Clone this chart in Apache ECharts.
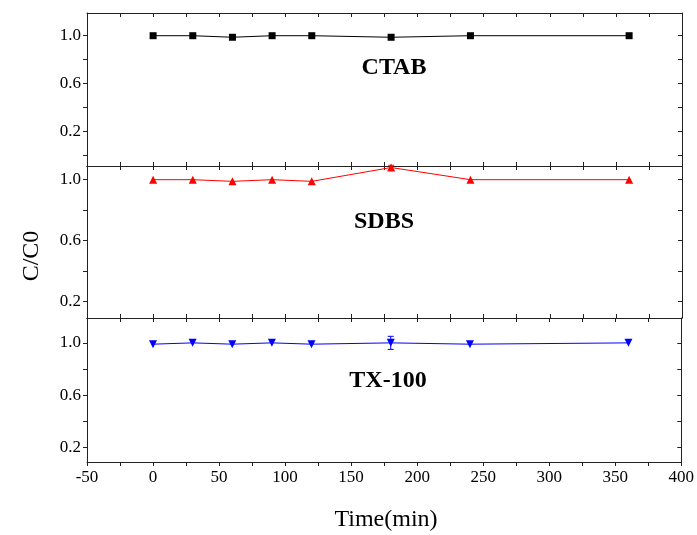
<!DOCTYPE html>
<html><head><meta charset="utf-8">
<script src="https://cdn.jsdelivr.net/npm/echarts@6/dist/echarts.min.js"></script>
<style>html,body{margin:0;padding:0;background:#fff}#c{width:697px;height:535px}</style>
</head><body><div id="c"></div>
<script>
const time = [0, 30, 60, 90, 120, 180, 240, 360];
const ctab = [1.0, 1.0, 0.987, 1.0, 1.0, 0.987, 1.0, 1.0];
const ctabErr = [0, 0, 0, 0, 0, 0, 0, 0];
const sdbs = [1.0, 1.0, 0.989, 1.0, 0.989, 1.08, 1.0, 1.0];
const sdbsErr = [0, 0, 0, 0, 0, 0.015, 0, 0];
const tx100 = [0.99, 1.0, 0.99, 1.0, 0.99, 1.0, 0.99, 1.0];
const tx100Err = [0, 0, 0, 0, 0, 0.05, 0, 0];
const xTicks = [-50, 0, 50, 100, 150, 200, 250, 300, 350, 400];
const yTickValues = [0, 0.2, 0.4, 0.6, 0.8, 1.0];
const yLabelValues = [0.2, 0.6, 1.0];
const panelNames = ['CTAB', 'SDBS', 'TX-100'];

const FONT = '"Liberation Serif", "Times New Roman", serif';
const chart = echarts.init(document.getElementById('c'));

const grids = [
  {left: 87, right: 15, top: 13, height: 153},
  {left: 87, right: 15, top: 166, height: 152},
  {left: 87, right: 15, top: 318, height: 144}
];
const yRanges = [[-0.09, 1.19], [0.09, 1.09], [0.09, 1.19]];
const lineStyle = {color: '#222', width: 1};

const xAxis = [], yAxis = [];
for (let i = 0; i < 3; i++) {
  const isLast = i === 2;
  xAxis.push({
    type: 'value', gridIndex: i, position: 'bottom', min: -50, max: 400, interval: 50,
    axisLine: {show: true, onZero: false, lineStyle},
    axisTick: {show: true, inside: !isLast, length: 4, lineStyle},
    minorTick: {show: true, splitNumber: 2, length: 4, lineStyle},
    splitLine: {show: false},
    axisLabel: {show: isLast, color: '#000', fontFamily: FONT, fontSize: 17, margin: 7,
      customValues: xTicks, formatter: v => String(v)}
  });
  xAxis.push({
    type: 'value', gridIndex: i, position: 'top', min: -50, max: 400, interval: 50,
    axisLine: {show: true, onZero: false, lineStyle},
    axisTick: {show: true, inside: true, length: 4, lineStyle},
    minorTick: {show: true, splitNumber: 2, length: 4, lineStyle},
    splitLine: {show: false}, axisLabel: {show: false}
  });
  yAxis.push({
    type: 'value', gridIndex: i, position: 'left', min: yRanges[i][0], max: yRanges[i][1],
    axisLine: {show: true, onZero: false, lineStyle},
    axisTick: {show: true, inside: false, length: 4, lineStyle, customValues: yTickValues},
    splitLine: {show: false},
    axisLabel: {show: true, color: '#000', fontFamily: FONT, fontSize: 17, margin: 6,
      customValues: yLabelValues, formatter: v => v.toFixed(1)}
  });
  yAxis.push({
    type: 'value', gridIndex: i, position: 'right', min: yRanges[i][0], max: yRanges[i][1],
    axisLine: {show: true, onZero: false, lineStyle},
    axisTick: {show: true, inside: true, length: 4, lineStyle, customValues: yTickValues},
    splitLine: {show: false}, axisLabel: {show: false}
  });
}

const sets = [
  {vals: ctab, err: ctabErr, color: '#000000', symbol: 'rect', size: 7, rot: 0},
  {vals: sdbs, err: sdbsErr, color: '#ff0000', symbol: 'triangle', size: 8, rot: 0},
  {vals: tx100, err: tx100Err, color: '#0000ff', symbol: 'triangle', size: 8, rot: 180}
];

const series = [];
sets.forEach((s, i) => {
  series.push({
    type: 'line', xAxisIndex: 2 * i, yAxisIndex: 2 * i,
    data: time.map((t, k) => [t, s.vals[k]]),
    symbol: s.symbol, symbolSize: s.size, symbolRotate: s.rot, showSymbol: true,
    lineStyle: {color: s.color, width: 1}, itemStyle: {color: s.color},
    clip: false, z: 3, animation: false
  });
  series.push({
    type: 'custom', xAxisIndex: 2 * i, yAxisIndex: 2 * i,
    data: time.map((t, k) => [t, s.vals[k], s.err[k]]).filter(d => d[2] > 0),
    renderItem: (params, api) => {
      const x = api.value(0), y = api.value(1), e = api.value(2);
      const p1 = api.coord([x, y + e]), p2 = api.coord([x, y - e]);
      const w = 3;
      const st = {stroke: s.color, lineWidth: 1};
      return {type: 'group', children: [
        {type: 'line', shape: {x1: p1[0], y1: p1[1], x2: p2[0], y2: p2[1]}, style: st},
        {type: 'line', shape: {x1: p1[0] - w, y1: p1[1], x2: p1[0] + w, y2: p1[1]}, style: st},
        {type: 'line', shape: {x1: p2[0] - w, y1: p2[1], x2: p2[0] + w, y2: p2[1]}, style: st}
      ]};
    },
    z: 4, animation: false
  });
});

const graphic = [
  {type: 'text', x: 394, y: 68, style: {text: panelNames[0], font: 'bold 24px ' + FONT, fill: '#000', align: 'center', verticalAlign: 'middle'}},
  {type: 'text', x: 384, y: 222, style: {text: panelNames[1], font: 'bold 24px ' + FONT, fill: '#000', align: 'center', verticalAlign: 'middle'}},
  {type: 'text', x: 388, y: 381, style: {text: panelNames[2], font: 'bold 24px ' + FONT, fill: '#000', align: 'center', verticalAlign: 'middle'}},
  {type: 'text', x: 32, y: 256, rotation: Math.PI / 2,
   style: {text: 'C/C0', font: '24px ' + FONT, fill: '#000', align: 'center', verticalAlign: 'middle'}},
  {type: 'text', x: 386, y: 520,
   style: {text: 'Time(min)', font: '24px ' + FONT, fill: '#000', align: 'center', verticalAlign: 'middle'}}
];

chart.setOption({
  animation: false,
  backgroundColor: '#fff',
  grid: grids,
  xAxis, yAxis, series, graphic
});
</script></body></html>
